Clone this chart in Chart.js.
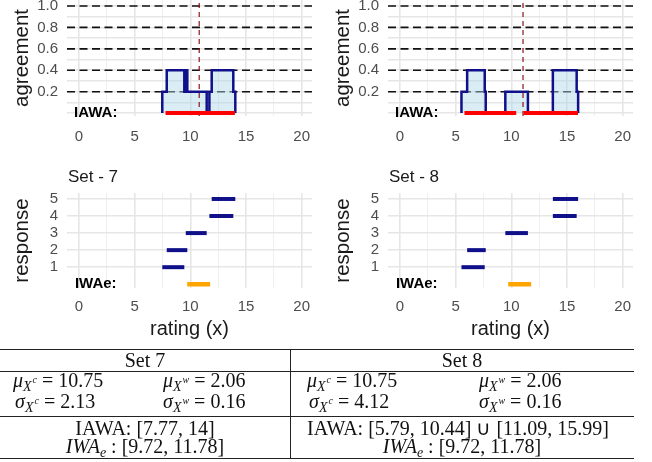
<!DOCTYPE html>
<html>
<head>
<meta charset="utf-8">
<script src="https://cdn.jsdelivr.net/npm/chart.js@4.4.1/dist/chart.umd.min.js"></script>
<style>
  html, body { margin: 0; padding: 0; background: #fff; width: 652px; height: 462px; overflow: hidden; }
  canvas { position: absolute; }
  .tbl { position: absolute; left: 0; top: 0; width: 652px; height: 462px; font-family: "Liberation Serif", "Times New Roman", serif; font-size: 20px; color: #111; }
  .hr { position: absolute; left: 0; width: 634px; height: 1px; background: #222; }
  .vr { position: absolute; left: 290px; top: 349px; width: 1px; height: 110px; background: #222; }
  .t { position: absolute; white-space: nowrap; line-height: 20px; transform: translateY(-50%); }
  .c { transform: translate(-50%, -50%); }
  .m { font-style: italic; }
  .sb { font-style: italic; font-size: 14px; position: relative; top: 4px; }
  .sp { font-style: italic; font-size: 10px; position: relative; top: -8px; margin-left: 1px; }
  .sbe { font-style: italic; font-size: 14px; position: relative; top: 4px; }
</style>
</head>
<body>
<canvas id="agree7" width="312" height="150" style="left:0;top:0"></canvas>
<canvas id="agree8" width="312" height="150" style="left:321px;top:0"></canvas>
<canvas id="resp7" width="312" height="185" style="left:0;top:160px"></canvas>
<canvas id="resp8" width="312" height="185" style="left:321px;top:160px"></canvas>

<div class="tbl">
  <div class="hr" style="top:349px"></div>
  <div class="hr" style="top:371px"></div>
  <div class="hr" style="top:416px"></div>
  <div class="hr" style="top:458px"></div>
  <div class="vr"></div>

  <div class="t c" style="left:145px;top:360px">Set 7</div>
  <div class="t c" style="left:462px;top:360px">Set 8</div>

  <div class="t" style="left:13px;top:382px"><span class="m">μ</span><span class="sb">X<span class="sp">c</span></span> = 10.75</div>
  <div class="t" style="left:163px;top:382px"><span class="m">μ</span><span class="sb">X<span class="sp">w</span></span> = 2.06</div>
  <div class="t" style="left:15px;top:403px"><span class="m">σ</span><span class="sb">X<span class="sp">c</span></span> = 2.13</div>
  <div class="t" style="left:163px;top:403px"><span class="m">σ</span><span class="sb">X<span class="sp">w</span></span> = 0.16</div>

  <div class="t" style="left:307px;top:382px"><span class="m">μ</span><span class="sb">X<span class="sp">c</span></span> = 10.75</div>
  <div class="t" style="left:479px;top:382px"><span class="m">μ</span><span class="sb">X<span class="sp">w</span></span> = 2.06</div>
  <div class="t" style="left:309px;top:403px"><span class="m">σ</span><span class="sb">X<span class="sp">c</span></span> = 4.12</div>
  <div class="t" style="left:479px;top:403px"><span class="m">σ</span><span class="sb">X<span class="sp">w</span></span> = 0.16</div>

  <div class="t c" style="left:145px;top:428px">IAWA: [7.77, 14]</div>
  <div class="t c" style="left:458px;top:428px">IAWA: [5.79, 10.44] ∪ [11.09, 15.99]</div>
  <div class="t c" style="left:145px;top:447px"><span class="m">IWA</span><span class="sbe">e</span> : [9.72, 11.78]</div>
  <div class="t c" style="left:462px;top:447px"><span class="m">IWA</span><span class="sbe">e</span> : [9.72, 11.78]</div>
</div>

<script>
// axis ticks
const xTicks = [0, 2.5, 5, 7.5, 10, 12.5, 15, 17.5, 20];
const xLabels = [0, 5, 10, 15, 20];
const agreeTicks = [0, 0.1, 0.2, 0.3, 0.4, 0.5, 0.6, 0.7, 0.8, 0.9, 1.0];
const agreeLabels = [0.2, 0.4, 0.6, 0.8, 1.0];
const respTicks = [1, 2, 3, 4, 5];
const refLevels = [0.2, 0.4, 0.6, 0.8, 1.0];

// responses (interval lower / upper bound per response)
const responses = [1, 2, 3, 4, 5];
const set7Lo = [7.48, 7.88, 9.59, 11.71, 11.92];
const set7Hi = [9.46, 9.73, 11.47, 13.86, 14.04];
const set8Lo = [5.52, 6.03, 9.46, 13.73, 13.73];
const set8Hi = [7.61, 7.70, 11.49, 15.87, 16.00];

// agreement step functions (breakpoint, level held from there)
const set7StepX = [7.48, 7.88, 9.46, 9.59, 9.73, 11.47, 11.71, 11.92, 13.86, 14.04];
const set7StepY = [0.2, 0.4, 0.2, 0.4, 0.2, 0, 0.2, 0.4, 0.2, 0];
const set8StepX = [5.52, 6.03, 7.61, 7.70, 9.46, 11.49, 13.73, 15.87, 16.00];
const set8StepY = [0.2, 0.4, 0.2, 0, 0.2, 0, 0.4, 0.2, 0];

const set7Iawa = [[7.77, 14]];
const set8Iawa = [[5.79, 10.44], [11.09, 15.99]];
const iwae = [9.72, 11.78];
const set7Mean = 10.8;
const set8Mean = 11.05;

const FONT = '"Liberation Sans", Arial, sans-serif';
const X_MIN = -1.08, X_MAX = 20.93;
const AG_MIN = -0.027, AG_MAX = 1.056;
const RS_MIN = -0.22, RS_MAX = 5.35;
const LABEL_X = 1.5;
const NAVY = '#10108a';

function gridOpts(majors) {
    return {
        drawTicks: false,
        color: ctx => majors.includes(ctx.tick.value) ? '#e6e6e6' : '#efefef',
        lineWidth: ctx => majors.includes(ctx.tick.value) ? 1.6 : 1
    }
}

function textPlugin(label, title) {
    return {
        id: 'panelText',
        afterDraw(chart) {
            const {ctx, chartArea, scales: {x, y}} = chart;
            ctx.save();
            ctx.fillStyle = '#000';
            ctx.font = 'bold 15px ' + FONT;
            ctx.textAlign = 'center';
            ctx.textBaseline = 'middle';
            ctx.fillText(label, x.getPixelForValue(LABEL_X), y.getPixelForValue(0));
            if (title) {
                ctx.font = '17px ' + FONT;
                ctx.textAlign = 'left';
                ctx.fillStyle = '#1a1a1a';
                ctx.fillText(title, chartArea.left + 1, chartArea.top - 16);
            }
            ctx.restore();
        }
    }
}

function baseOptions(o) {
    return {
        responsive: false,
        animation: false,
        layout: {padding: {top: o.padTop, left: 0, right: 0, bottom: 0}},
        elements: {point: {radius: 0}, line: {tension: 0}},
        plugins: {legend: {display: false}, tooltip: {enabled: false}, title: {display: false}},
        scales: {
            x: {
                type: 'linear',
                min: X_MIN,
                max: X_MAX,
                afterBuildTicks: s => { s.ticks = xTicks.map(v => ({value: v})) },
                afterFit: s => { s.height = o.xHeight; s.paddingLeft = 0; s.paddingRight = 0 },
                grid: gridOpts(xLabels),
                border: {display: false},
                ticks: {
                    autoSkip: false,
                    maxRotation: 0,
                    padding: o.xPad,
                    color: '#4d4d4d',
                    font: {family: FONT, size: 15},
                    callback: v => xLabels.includes(v) ? String(v) : ''
                },
                title: {
                    display: o.xTitle,
                    text: 'rating (x)',
                    color: '#1a1a1a',
                    font: {family: FONT, size: 20},
                    padding: {top: 0, bottom: 4}
                }
            },
            y: {
                type: 'linear',
                min: o.yMin,
                max: o.yMax,
                afterBuildTicks: s => { s.ticks = o.yTicks.map(v => ({value: v})) },
                afterFit: s => { s.width = 67; s.paddingTop = 0; s.paddingBottom = 0 },
                grid: gridOpts(o.yTicks),
                border: {display: false},
                ticks: {
                    autoSkip: false,
                    padding: 9,
                    color: '#4d4d4d',
                    font: {family: FONT, size: 15},
                    callback: v => o.yLabels.includes(v) ? (o.fixed ? v.toFixed(1) : String(v)) : ''
                },
                title: {
                    display: true,
                    text: o.yTitle,
                    color: '#1a1a1a',
                    font: {family: FONT, size: 20.5},
                    padding: {top: 10, bottom: 0}
                }
            }
        }
    }
}

function agreementChart(id, stepX, stepY, iawa, mean) {
    const stepPts = [{x: stepX[0], y: 0}].concat(stepX.map((x, i) => ({x: x, y: stepY[i]})));
    const datasets = [];
    iawa.forEach(iv => datasets.push({
        data: [{x: iv[0], y: 0}, {x: iv[1], y: 0}],
        borderColor: '#ff0000', borderWidth: 4, order: 0
    }));
    datasets.push({
        data: [{x: mean, y: AG_MIN}, {x: mean, y: AG_MAX}],
        borderColor: 'rgba(139,20,25,0.85)', borderWidth: 1.4, borderDash: [5, 4], order: 1
    });
    datasets.push({
        data: stepPts, stepped: true, fill: 'origin',
        backgroundColor: 'rgba(173,216,230,0.45)', borderColor: NAVY, borderWidth: 2.5, order: 2
    });
    refLevels.forEach(l => datasets.push({
        data: [{x: X_MIN, y: l}, {x: X_MAX, y: l}],
        borderColor: '#111', borderWidth: 1.6, borderDash: [8, 4.5], order: 3
    }));

    return new Chart(document.getElementById(id), {
        type: 'line',
        data: {datasets: datasets},
        options: baseOptions({
            padTop: 0, xHeight: 34, xPad: 12, xTitle: false,
            yMin: AG_MIN, yMax: AG_MAX, yTicks: agreeTicks, yLabels: agreeLabels,
            fixed: true, yTitle: 'agreement'
        }),
        plugins: [textPlugin('IAWA:')]
    })
}

function responseChart(id, lo, hi, title) {
    const datasets = responses.map((r, i) => ({
        data: [{x: lo[i], y: r}, {x: hi[i], y: r}],
        borderColor: NAVY, borderWidth: 4, order: 1
    }));
    datasets.push({
        data: [{x: iwae[0], y: 0}, {x: iwae[1], y: 0}],
        borderColor: '#ffa500', borderWidth: 4.5, order: 0
    });

    return new Chart(document.getElementById(id), {
        type: 'line',
        data: {datasets: datasets},
        options: baseOptions({
            padTop: 33, xHeight: 57, xPad: 10, xTitle: true,
            yMin: RS_MIN, yMax: RS_MAX, yTicks: respTicks, yLabels: respTicks,
            fixed: false, yTitle: 'response'
        }),
        plugins: [textPlugin('IWAe:', title)]
    })
}

agreementChart('agree7', set7StepX, set7StepY, set7Iawa, set7Mean);
agreementChart('agree8', set8StepX, set8StepY, set8Iawa, set8Mean);
responseChart('resp7', set7Lo, set7Hi, 'Set - 7');
responseChart('resp8', set8Lo, set8Hi, 'Set - 8');
</script>
</body>
</html>
